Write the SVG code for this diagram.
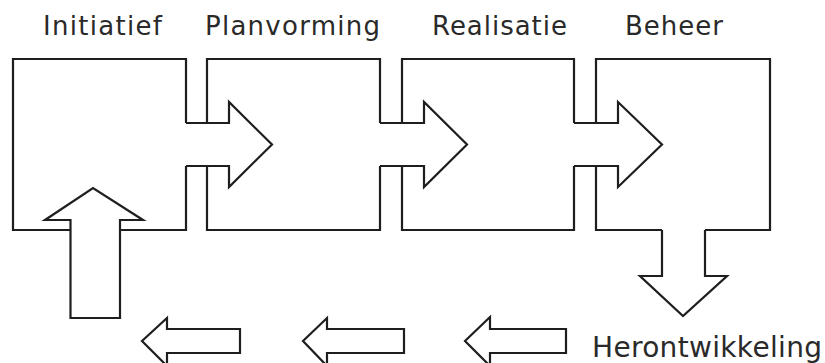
<svg xmlns="http://www.w3.org/2000/svg" width="825" height="363" viewBox="0 0 825 363">
<style>
.ln{fill:none;stroke:#1e1e1e;stroke-width:2.2;stroke-linejoin:miter;stroke-linecap:butt}
.ar{fill:#fff;stroke:#1e1e1e;stroke-width:2.2;stroke-linejoin:miter}
.lb{font-family:"DejaVu Sans","Verdana",sans-serif;font-size:26px;fill:#2a2a2a}
.lg{font-family:"DejaVu Sans","Verdana",sans-serif;font-size:28px;fill:#2a2a2a}
</style>
<rect width="825" height="363" fill="#fff"/>
<g id="node-initiatief">
<path class="ln" d="M71,230 H13 V59 H186 V123 M186,166 V230 H120"/>
<text class="lb" x="43" y="35" textLength="119" lengthAdjust="spacing">Initiatief</text>
</g>
<g id="node-planvorming">
<path class="ln" d="M207,123 V59 H380 V123 M380,166 V230 H207 V166"/>
<text class="lb" x="205" y="35" textLength="175" lengthAdjust="spacing">Planvorming</text>
</g>
<g id="node-realisatie">
<path class="ln" d="M402,123 V59 H574 V123 M574,166 V230 H402 V166"/>
<text class="lb" x="432" y="35" textLength="135" lengthAdjust="spacing">Realisatie</text>
</g>
<g id="node-beheer">
<path class="ln" d="M596,123 V59 H770 V230 H705 M662,230 H596 V166"/>
<text class="lb" x="625" y="35" textLength="98" lengthAdjust="spacing">Beheer</text>
</g>
<g id="node-herontwikkeling">
<text class="lg" x="592" y="357" textLength="230" lengthAdjust="spacing">Herontwikkeling</text>
</g>
<g id="connectors">
<path class="ln" d="M186,123 H229 V102 L272,144.5 L229,187 V166 H186"/>
<path class="ln" d="M380,123 H424 V102 L467,144.5 L424,187 V166 H380"/>
<path class="ln" d="M574,123 H618 V102 L662,144.5 L618,187 V166 H574"/>
<path class="ln" d="M662,230 V276 H640 L683,316 L727,276 H705 V230"/>
<path class="ar" d="M240,329 H167 V318 L142,341 L167,366 V353 H240 Z"/>
<path class="ar" d="M404,329 H327 V318 L303,341 L327,366 V353 H404 Z"/>
<path class="ar" d="M566,329 H490 V317 L465,341 L490,366 V353 H566 Z"/>
<path class="ln" d="M70.5,318 V220 H45 L93,188 L143,220 H120 V318 Z"/>
</g>
</svg>
